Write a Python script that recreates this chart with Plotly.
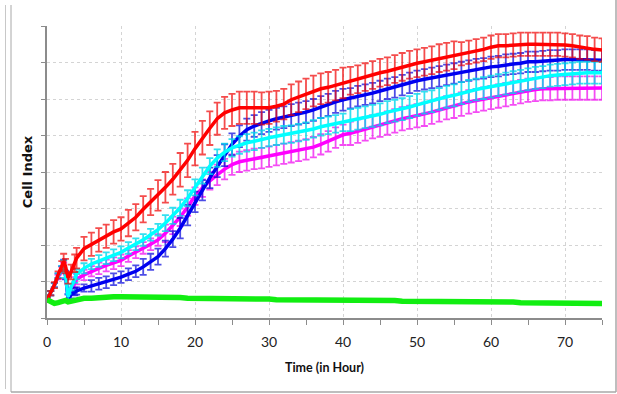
import plotly.graph_objects as go

# Time points (hours)
time_h = [0, 0.5, 1, 1.5, 2, 2.25, 2.5, 2.85, 3.25, 3.75,
          4, 5, 6, 7, 8, 9, 10, 11, 12, 13, 14, 15, 16, 17, 18, 19, 20, 21, 22, 23,
          24, 25, 26, 27, 28, 29, 30, 31, 32, 33, 34, 35, 36, 37, 38, 39, 40, 41, 42, 43,
          44, 45, 46, 47, 48, 49, 50, 51, 52, 53, 54, 55, 56, 57, 58, 59, 60, 61, 62, 63,
          64, 65, 66, 67, 68, 69, 70, 71, 72, 73, 74, 75]

red = [0.25, 0.34, 0.45, 0.59, 0.71, 0.77, 0.71, 0.55, 0.63, 0.75,
       0.82, 0.95, 1.01, 1.07, 1.12, 1.18, 1.22, 1.30, 1.38, 1.49, 1.59, 1.68, 1.79, 1.90, 2.03, 2.16, 2.32, 2.47, 2.60, 2.73,
       2.81, 2.85, 2.88, 2.88, 2.88, 2.87, 2.88, 2.90, 2.93, 2.99, 3.03, 3.07, 3.11, 3.14, 3.16, 3.19, 3.22, 3.25, 3.27, 3.30,
       3.33, 3.36, 3.38, 3.41, 3.44, 3.47, 3.49, 3.51, 3.53, 3.56, 3.58, 3.60, 3.62, 3.64, 3.66, 3.68, 3.71, 3.73, 3.73, 3.74,
       3.75, 3.75, 3.75, 3.75, 3.75, 3.75, 3.74, 3.73, 3.71, 3.70, 3.68, 3.67]
red_err = [0.03, 0.03, 0.04, 0.05, 0.07, 0.11, 0.10, 0.08, 0.10, 0.12,
           0.14, 0.16, 0.16, 0.16, 0.16, 0.16, 0.16, 0.18, 0.18, 0.18, 0.18, 0.21, 0.21, 0.21, 0.23, 0.23, 0.23, 0.23, 0.23, 0.22,
           0.22, 0.22, 0.22, 0.22, 0.22, 0.22, 0.22, 0.21, 0.21, 0.21, 0.21, 0.21, 0.21, 0.21, 0.21, 0.21, 0.21, 0.19, 0.19, 0.19,
           0.19, 0.19, 0.19, 0.19, 0.19, 0.19, 0.19, 0.19, 0.19, 0.19, 0.19, 0.19, 0.16, 0.16, 0.16, 0.16, 0.16, 0.16, 0.16, 0.16,
           0.16, 0.16, 0.16, 0.16, 0.16, 0.16, 0.16, 0.16, 0.16, 0.16, 0.16, 0.16]

blue = [0.25, 0.34, 0.45, 0.58, 0.68, 0.73, 0.59, 0.27, 0.32, 0.36,
        0.37, 0.41, 0.44, 0.47, 0.49, 0.53, 0.56, 0.60, 0.64, 0.70, 0.77, 0.84, 0.95, 1.08, 1.23, 1.41, 1.59, 1.75, 1.92, 2.08,
        2.23, 2.38, 2.49, 2.58, 2.63, 2.67, 2.70, 2.73, 2.75, 2.78, 2.80, 2.82, 2.85, 2.89, 2.92, 2.96, 2.99, 3.01, 3.04, 3.06,
        3.08, 3.11, 3.14, 3.16, 3.19, 3.22, 3.25, 3.27, 3.29, 3.31, 3.33, 3.35, 3.37, 3.39, 3.41, 3.42, 3.44, 3.45, 3.47, 3.48,
        3.49, 3.51, 3.51, 3.52, 3.53, 3.53, 3.54, 3.54, 3.54, 3.54, 3.53, 3.53]
blue_err = [0.03, 0.03, 0.03, 0.03, 0.03, 0.07, 0.06, 0.05, 0.05, 0.05,
            0.05, 0.05, 0.08, 0.08, 0.08, 0.08, 0.08, 0.08, 0.08, 0.11, 0.11, 0.11, 0.11, 0.11, 0.14, 0.14, 0.14, 0.14, 0.14, 0.15,
            0.15, 0.15, 0.15, 0.15, 0.15, 0.15, 0.15, 0.15, 0.15, 0.15, 0.15, 0.15, 0.15, 0.15, 0.15, 0.15, 0.15, 0.14, 0.14, 0.14,
            0.14, 0.14, 0.14, 0.14, 0.14, 0.14, 0.14, 0.14, 0.14, 0.14, 0.14, 0.14, 0.14, 0.14, 0.14, 0.14, 0.14, 0.14, 0.14, 0.14,
            0.14, 0.14, 0.14, 0.14, 0.14, 0.14, 0.14, 0.14, 0.14, 0.14, 0.14, 0.14]

cyan = [0.25, 0.34, 0.45, 0.58, 0.68, 0.74, 0.59, 0.29, 0.42, 0.55,
        0.60, 0.68, 0.74, 0.78, 0.82, 0.86, 0.90, 0.96, 1.01, 1.07, 1.14, 1.21, 1.30, 1.40, 1.51, 1.64, 1.79, 1.95, 2.08, 2.19,
        2.27, 2.33, 2.37, 2.40, 2.42, 2.45, 2.47, 2.49, 2.51, 2.52, 2.54, 2.56, 2.59, 2.62, 2.64, 2.66, 2.68, 2.71, 2.73, 2.75,
        2.77, 2.79, 2.82, 2.84, 2.86, 2.89, 2.92, 2.95, 2.97, 3.00, 3.03, 3.05, 3.08, 3.11, 3.13, 3.15, 3.17, 3.19, 3.21, 3.23,
        3.25, 3.27, 3.29, 3.30, 3.32, 3.33, 3.34, 3.35, 3.36, 3.36, 3.36, 3.36]
cyan_err = [0.03, 0.03, 0.03, 0.03, 0.03, 0.05, 0.04, 0.04, 0.04, 0.07,
            0.07, 0.07, 0.07, 0.08, 0.08, 0.08, 0.08, 0.08, 0.08, 0.08, 0.08, 0.08, 0.11, 0.11, 0.11, 0.11, 0.11, 0.11, 0.11, 0.12,
            0.12, 0.12, 0.12, 0.12, 0.12, 0.12, 0.12, 0.12, 0.12, 0.12, 0.12, 0.12, 0.12, 0.12, 0.12, 0.12, 0.12, 0.15, 0.15, 0.15,
            0.15, 0.15, 0.15, 0.15, 0.15, 0.15, 0.15, 0.15, 0.15, 0.15, 0.15, 0.15, 0.15, 0.15, 0.15, 0.15, 0.15, 0.15, 0.15, 0.15,
            0.15, 0.15, 0.15, 0.15, 0.15, 0.15, 0.15, 0.15, 0.15, 0.15, 0.15, 0.15]

magenta = [0.25, 0.34, 0.45, 0.56, 0.67, 0.71, 0.58, 0.29, 0.38, 0.49,
           0.53, 0.59, 0.64, 0.68, 0.72, 0.75, 0.79, 0.85, 0.90, 0.96, 1.01, 1.07, 1.16, 1.27, 1.38, 1.52, 1.67, 1.78, 1.88, 1.96,
           2.04, 2.10, 2.14, 2.16, 2.18, 2.19, 2.21, 2.23, 2.25, 2.27, 2.29, 2.31, 2.34, 2.38, 2.42, 2.47, 2.51, 2.53, 2.56, 2.59,
           2.62, 2.64, 2.67, 2.70, 2.73, 2.75, 2.77, 2.79, 2.82, 2.85, 2.88, 2.90, 2.93, 2.96, 2.98, 3.00, 3.02, 3.04, 3.06, 3.08,
           3.10, 3.12, 3.13, 3.14, 3.14, 3.15, 3.15, 3.15, 3.15, 3.15, 3.15, 3.15]
magenta_err = [0.03, 0.03, 0.03, 0.03, 0.03, 0.05, 0.04, 0.04, 0.04, 0.07,
               0.07, 0.07, 0.07, 0.08, 0.08, 0.08, 0.08, 0.08, 0.08, 0.08, 0.08, 0.08, 0.12, 0.12, 0.12, 0.12, 0.12, 0.12, 0.12, 0.14,
               0.14, 0.14, 0.14, 0.14, 0.14, 0.14, 0.14, 0.14, 0.14, 0.14, 0.14, 0.14, 0.14, 0.14, 0.14, 0.14, 0.14, 0.16, 0.16, 0.16,
               0.16, 0.16, 0.16, 0.16, 0.16, 0.16, 0.16, 0.16, 0.16, 0.16, 0.16, 0.16, 0.16, 0.16, 0.16, 0.16, 0.16, 0.16, 0.16, 0.16,
               0.16, 0.16, 0.16, 0.16, 0.16, 0.16, 0.16, 0.16, 0.16, 0.16, 0.16, 0.16]

green = [0.25, 0.22, 0.20, 0.21, 0.22, 0.23, 0.24, 0.22, 0.23, 0.25,
         0.25, 0.27, 0.27, 0.28, 0.29, 0.29, 0.29, 0.29, 0.29, 0.28, 0.28, 0.28, 0.28, 0.28, 0.28, 0.27, 0.27, 0.27, 0.27, 0.27,
         0.27, 0.26, 0.26, 0.26, 0.26, 0.26, 0.26, 0.25, 0.25, 0.25, 0.25, 0.25, 0.25, 0.25, 0.25, 0.25, 0.25, 0.24, 0.24, 0.24,
         0.24, 0.24, 0.24, 0.24, 0.23, 0.23, 0.23, 0.23, 0.23, 0.23, 0.23, 0.23, 0.22, 0.22, 0.22, 0.22, 0.22, 0.22, 0.22, 0.22,
         0.21, 0.21, 0.21, 0.21, 0.21, 0.21, 0.21, 0.20, 0.20, 0.20, 0.20, 0.20]

x_ticks = [0, 10, 20, 30, 40, 50, 60, 70]

series = [
    ("magenta", magenta, magenta_err, "#ff00ff", "rgba(240,0,240,0.7)"),
    ("blue", blue, blue_err, "#0000f0", "rgba(0,0,220,0.7)"),
    ("cyan", cyan, cyan_err, "#00ffff", "rgba(0,215,235,0.8)"),
    ("red", red, red_err, "#ff0000", "rgba(240,0,0,0.7)"),
]

fig = go.Figure()
for name, vals, errs, col, ecol in series:
    fig.add_trace(go.Scatter(
        x=time_h, y=vals, mode="lines", name=name,
        line=dict(color=col, width=3.5),
        error_y=dict(type="data", array=errs, visible=True, color=ecol, thickness=1.8, width=3.5),
        showlegend=False,
    ))
fig.add_trace(go.Scatter(
    x=time_h, y=green, mode="lines", name="green",
    line=dict(color="#11ee11", width=5.5), showlegend=False,
))

L, R, T, B = 47, 602, 26, 318
W, H = 617, 394
pw, ph = R - L, B - T


def px(X):
    return (X - L) / pw


def py(Y):
    return (B - Y) / ph


shapes = [
    dict(type="line", xref="paper", yref="paper", x0=px(5.5), x1=px(5.5), y0=py(5), y1=py(389),
         line=dict(color="#c8c8c8", width=1)),
    dict(type="line", xref="paper", yref="paper", x0=px(11), x1=px(11), y0=py(5), y1=py(392),
         line=dict(color="#a8a8a8", width=1)),
    dict(type="line", xref="paper", yref="paper", x0=px(11), x1=px(616), y0=py(392), y1=py(392),
         line=dict(color="#a8a8a8", width=1.5)),
    dict(type="line", xref="paper", yref="paper", x0=px(616), x1=px(616), y0=py(0), y1=py(392),
         line=dict(color="#a8a8a8", width=1.5)),
]

narrow = "Lato, Carlito, Calibri, sans-serif"

fig.update_layout(
    width=W, height=H,
    margin=dict(l=L, r=W - R, t=T, b=H - B, autoexpand=False),
    paper_bgcolor="white", plot_bgcolor="white",
    shapes=shapes,
    xaxis=dict(
        range=[0, 75], tickvals=x_ticks, ticktext=[str(v) for v in x_ticks],
        showgrid=True, gridcolor="#d4d4d4", griddash="dot", gridwidth=1,
        showline=True, linecolor="#8c8c8c", linewidth=1.5,
        ticks="outside", ticklen=5, tickcolor="#8c8c8c",
        minor=dict(dtick=5, tick0=0, ticks="outside", ticklen=5, tickcolor="#8c8c8c", showgrid=False),
        tickfont=dict(family=narrow, size=14, color="#222"),
        ticklabelstandoff=5,
        title=dict(text="<b>Time (in Hour)</b>", standoff=15,
                   font=dict(family=narrow, size=12.5, color="#111")),
        zeroline=False, automargin=False,
    ),
    yaxis=dict(
        range=[0, 4], dtick=0.5, showticklabels=False,
        showgrid=True, gridcolor="#d4d4d4", griddash="dot", gridwidth=1,
        showline=True, linecolor="#8c8c8c", linewidth=1.5,
        ticks="outside", ticklen=4, tickcolor="#8c8c8c",
        title=dict(text="<b>Cell Index</b>", standoff=6,
                   font=dict(family="DejaVu Sans, Verdana, sans-serif", size=13, color="#111")),
        zeroline=False, automargin=False,
    ),
)

fig.write_html("out.html", config={"displayModeBar": False},
               post_script="document.body.style.margin='0';document.body.style.padding='0';")
